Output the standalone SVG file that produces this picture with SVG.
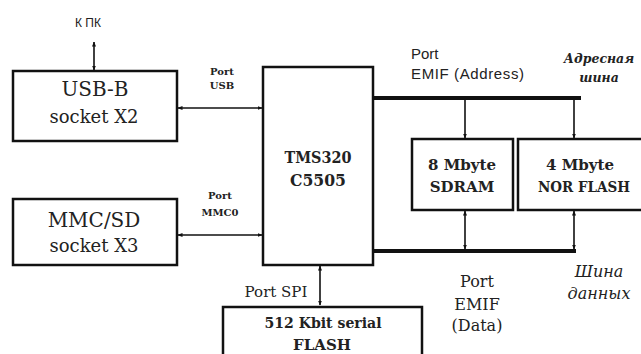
<svg xmlns="http://www.w3.org/2000/svg" width="641" height="354" viewBox="0 0 641 354">
<defs>
<marker id="ah" viewBox="0 0 10 10" refX="9" refY="5" markerWidth="5" markerHeight="5" orient="auto-start-reverse" markerUnits="userSpaceOnUse">
<path d="M0,1 L10,5 L0,9 Z" fill="#111"/>
</marker>
</defs>
<style>
.box{fill:#fff;stroke:#111;stroke-width:2.5}
.ser{font-family:"DejaVu Serif","Liberation Serif",serif;fill:#222;text-anchor:middle}
.sans{font-family:"Liberation Sans",Arial,sans-serif;fill:#222}
.ln{stroke:#111;stroke-width:1.6;fill:none}
.bus{stroke:#111;stroke-width:4;fill:none}
</style>
<rect width="641" height="354" fill="#fff"/>
<g id="connectors">
<line class="ln" x1="94" y1="42" x2="94" y2="70" marker-start="url(#ah)" marker-end="url(#ah)"/>
<line class="ln" x1="178" y1="108" x2="262" y2="108" marker-start="url(#ah)" marker-end="url(#ah)"/>
<line class="ln" x1="178" y1="235" x2="262" y2="235" marker-start="url(#ah)" marker-end="url(#ah)"/>
<line class="ln" x1="320" y1="266" x2="320" y2="305" marker-start="url(#ah)" marker-end="url(#ah)"/>
<line class="bus" x1="374" y1="98" x2="581" y2="98"/>
<line class="ln" x1="465" y1="100" x2="465" y2="138" marker-end="url(#ah)"/>
<line class="ln" x1="574" y1="100" x2="574" y2="138" marker-end="url(#ah)"/>
<line class="bus" x1="374" y1="251" x2="576" y2="251"/>
<line class="ln" x1="465" y1="211" x2="465" y2="249" marker-start="url(#ah)" marker-end="url(#ah)"/>
<line class="ln" x1="574" y1="211" x2="574" y2="249" marker-start="url(#ah)" marker-end="url(#ah)"/>
</g>
<g id="kpk"><text class="sans" x="88" y="27" font-size="12" text-anchor="middle">К ПК</text></g>
<g id="usb">
<rect class="box" x="13" y="71" width="164" height="70"/>
<text class="ser" x="95" y="96" font-size="20">USB-B</text>
<text class="ser" x="94" y="123" font-size="18">socket X2</text>
</g>
<g id="mmc">
<rect class="box" x="13" y="199" width="164" height="66"/>
<text class="ser" x="94" y="227" font-size="20">MMC/SD</text>
<text class="ser" x="94" y="252" font-size="18">socket X3</text>
</g>
<g id="port-usb">
<text class="ser" x="222" y="75" font-size="10" font-weight="bold">Port</text>
<text class="ser" x="222" y="89" font-size="10" font-weight="bold">USB</text>
</g>
<g id="port-mmc">
<text class="ser" x="220" y="199" font-size="10" font-weight="bold">Port</text>
<text class="ser" x="220" y="216" font-size="10" font-weight="bold">MMC0</text>
</g>
<g id="tms">
<rect class="box" x="263" y="67" width="110" height="198"/>
<text class="ser" x="318" y="163" font-size="16" font-weight="bold" textLength="67" lengthAdjust="spacingAndGlyphs">TMS320</text>
<text class="ser" x="318" y="186" font-size="16" font-weight="bold" textLength="56" lengthAdjust="spacingAndGlyphs">C5505</text>
</g>
<g id="port-emif-addr">
<text class="sans" x="411" y="59" font-size="15">Port</text>
<text class="sans" x="411" y="79" font-size="15" textLength="113" lengthAdjust="spacing">EMIF (Address)</text>
</g>
<g id="addr-bus-label">
<text class="ser" x="599" y="63" font-size="12.5" font-style="italic" font-weight="bold">Адресная</text>
<text class="ser" x="599" y="82" font-size="12.5" font-style="italic" font-weight="bold">шина</text>
</g>
<g id="sdram">
<rect class="box" x="412" y="139" width="101" height="71"/>
<text class="ser" x="462" y="170" font-size="15" font-weight="bold">8 Mbyte</text>
<text class="ser" x="462" y="192" font-size="15" font-weight="bold">SDRAM</text>
</g>
<g id="nor">
<rect class="box" x="518" y="139" width="130" height="71"/>
<text class="ser" x="580" y="170" font-size="15" font-weight="bold">4 Mbyte</text>
<text class="ser" x="584" y="192" font-size="15" font-weight="bold" textLength="92" lengthAdjust="spacingAndGlyphs">NOR FLASH</text>
</g>
<g id="port-emif-data">
<text class="ser" x="477" y="287" font-size="16">Port</text>
<text class="ser" x="477" y="310" font-size="16">EMIF</text>
<text class="ser" x="477" y="331" font-size="16">(Data)</text>
</g>
<g id="data-bus-label">
<text class="ser" x="599" y="277" font-size="16" font-style="italic">Шина</text>
<text class="ser" x="599" y="299" font-size="16" font-style="italic">данных</text>
</g>
<g id="port-spi"><text class="ser" x="276" y="297" font-size="15">Port SPI</text></g>
<g id="flash">
<rect class="box" x="223" y="307" width="199" height="60"/>
<text class="ser" x="323" y="328" font-size="15" font-weight="bold" textLength="117" lengthAdjust="spacingAndGlyphs">512 Kbit serial</text>
<text class="ser" x="322" y="350" font-size="15" font-weight="bold">FLASH</text>
</g>
</svg>
